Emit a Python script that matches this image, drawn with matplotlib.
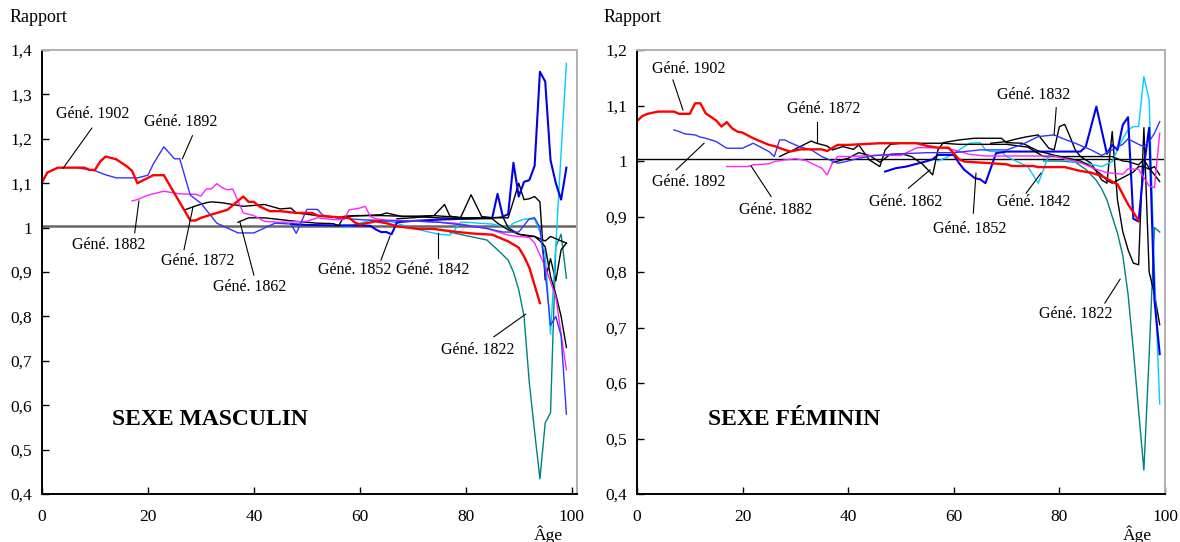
import matplotlib
matplotlib.use('Agg')
import matplotlib.pyplot as plt

plt.rcParams['font.family'] = ['Liberation Serif', 'DejaVu Serif']

# ---------------- DATA : SEXE MASCULIN ----------------
m1902_age = [0, 1, 3, 8, 9, 10, 11, 12, 14, 16, 17, 18, 21, 23, 28, 29, 30, 33, 35, 36, 38, 39, 40, 41, 43, 45, 48, 51, 52, 55, 58, 59, 60, 63, 65, 67, 71, 74, 77, 81, 85, 88, 90, 91, 92, 93, 94]
m1902_val = [1.102, 1.124, 1.135, 1.135, 1.13, 1.13, 1.149, 1.16, 1.154, 1.138, 1.128, 1.10, 1.118, 1.118, 1.016, 1.016, 1.022, 1.033, 1.04, 1.05, 1.07, 1.058, 1.058, 1.048, 1.037, 1.037, 1.033, 1.033, 1.027, 1.024, 1.022, 1.012, 1.007, 1.014, 1.010, 1.003, 0.997, 0.997, 0.992, 0.987, 0.984, 0.969, 0.955, 0.935, 0.91, 0.87, 0.83]

m1892_age = [7, 10, 12, 14, 18, 20, 21, 23, 25, 26, 28, 30, 33, 35, 37, 40, 42, 44, 47, 48, 50, 52, 53, 56, 60, 65, 70, 75, 80, 84, 87, 90, 92, 93, 94, 95, 96, 97, 98, 99]
m1892_val = [1.134, 1.128, 1.119, 1.112, 1.112, 1.118, 1.143, 1.182, 1.155, 1.155, 1.073, 1.055, 1.01, 0.999, 0.988, 0.988, 0.999, 1.01, 1.008, 0.987, 1.041, 1.041, 1.028, 1.022, 1.018, 1.015, 1.015, 1.012, 1.005, 0.998, 0.99, 0.99, 1.02, 1.022, 1.0, 0.9, 0.78, 0.80, 0.756, 0.58]

m1882_age = [17, 18, 20, 23, 26, 29, 30, 31, 32, 33, 34, 35, 36, 37, 38, 40, 42, 45, 50, 52, 55, 57, 58, 60, 61, 62, 63, 65, 70, 75, 78, 84, 88, 90, 92, 93, 95, 97, 98, 99]
m1882_val = [1.06, 1.063, 1.073, 1.082, 1.076, 1.075, 1.071, 1.087, 1.087, 1.099, 1.09, 1.085, 1.087, 1.06, 1.033, 1.027, 1.014, 1.012, 1.014, 1.022, 1.018, 1.018, 1.04, 1.044, 1.048, 1.025, 1.02, 1.017, 1.015, 1.012, 1.01, 0.998, 0.983, 0.98, 0.978, 0.965, 0.912, 0.844, 0.76, 0.68]

m1872_age = [27, 29, 31, 32, 34, 36, 38, 40, 42, 45, 47, 48, 52, 56, 57, 64, 65, 68, 74, 80, 85, 87, 88, 90, 92, 93, 94, 95, 96, 97, 98, 99]
m1872_val = [1.04, 1.049, 1.056, 1.058, 1.056, 1.052, 1.048, 1.05, 1.052, 1.042, 1.044, 1.033, 1.027, 1.022, 1.025, 1.029, 1.033, 1.025, 1.027, 1.022, 1.022, 1.024, 1.0, 0.985, 0.98, 0.98, 0.975, 0.97, 0.98, 0.975, 0.97, 0.965]

m1862_age = [37, 39, 42, 45, 48, 52, 55, 56, 57, 59, 64, 70, 75, 80, 85, 86, 88, 90, 92, 93, 94, 95, 96, 97, 98, 99]
m1862_val = [1.012, 1.022, 1.022, 1.018, 1.014, 1.01, 1.009, 1.004, 1.025, 1.027, 1.027, 1.025, 1.022, 1.02, 1.02, 1.01, 0.995, 0.985, 0.982, 0.98, 0.97, 0.957, 0.89, 0.85, 0.80, 0.73]

m1852_age = [47, 50, 55, 60, 62, 63, 64, 65, 66, 67, 70, 75, 80, 84, 85, 86, 87, 88, 89, 90, 91, 92, 93, 94, 95, 96, 97, 98, 99]
m1852_val = [1.008, 1.006, 1.005, 1.005, 1.004, 0.996, 0.99, 0.99, 0.985, 1.012, 1.015, 1.018, 1.02, 1.022, 1.022, 1.076, 1.025, 1.03, 1.146, 1.07, 1.103, 1.107, 1.139, 1.351, 1.329, 1.152, 1.10, 1.063, 1.135]

m1842_age = [57, 59, 62, 66, 68, 71, 73, 75, 77, 78, 79, 80, 85, 88, 89, 91, 92, 93, 94, 95, 96, 97, 98, 99]
m1842_val = [1.0, 1.006, 1.017, 1.013, 1.006, 0.996, 0.99, 0.985, 0.983, 0.996, 1.012, 1.012, 1.008, 1.0, 1.01, 1.019, 1.019, 1.019, 0.99, 0.94, 0.76, 0.96, 1.17, 1.37]

m1832_age = [67, 70, 74, 76, 77, 79, 81, 83, 85, 88, 89, 90, 91, 92, 93, 94, 95, 96, 97, 98, 99]
m1832_val = [1.02, 1.022, 1.027, 1.052, 1.026, 1.022, 1.074, 1.025, 1.022, 1.022, 1.06, 1.1, 1.063, 1.065, 1.07, 1.058, 0.882, 0.93, 0.88, 0.95, 0.965]

m1822_age = [77, 80, 84, 86, 88, 89, 90, 91, 92, 93, 94, 95, 96, 97, 98, 99]
m1822_val = [0.99, 0.982, 0.972, 0.95, 0.927, 0.9, 0.86, 0.80, 0.65, 0.54, 0.434, 0.56, 0.583, 0.957, 0.985, 0.886]

# ---------------- DATA : SEXE FÉMININ ----------------
f1902_age = [0, 1, 2, 4, 7, 8, 10, 11, 12, 13, 15, 16, 17, 18, 19, 20, 22, 25, 26, 28, 29, 31, 35, 36, 38, 40, 46, 53, 55, 57, 59, 61, 62, 67, 70, 71, 75, 76, 81, 84, 86, 88, 91, 93, 95]
f1902_val = [1.072, 1.081, 1.085, 1.089, 1.089, 1.085, 1.085, 1.104, 1.104, 1.086, 1.073, 1.062, 1.070, 1.059, 1.053, 1.051, 1.041, 1.029, 1.027, 1.02, 1.017, 1.021, 1.021, 1.018, 1.029, 1.029, 1.032, 1.032, 1.027, 1.024, 1.024, 1.003, 0.999, 0.996, 0.994, 0.991, 0.991, 0.989, 0.989, 0.982, 0.979, 0.973, 0.958, 0.922, 0.893]

f1892_age = [7, 8, 9, 11, 12, 13, 15, 17, 20, 22, 23, 24, 25, 26, 27, 28, 29, 31, 33, 35, 38, 40, 42, 45, 50, 55, 60, 65, 70, 73, 76, 79, 81, 83, 86, 88, 90, 92, 93, 94, 95, 96, 97, 98, 99]
f1892_val = [1.056, 1.053, 1.049, 1.047, 1.043, 1.041, 1.035, 1.023, 1.023, 1.032, 1.027, 1.022, 1.017, 1.008, 1.038, 1.038, 1.033, 1.025, 1.02, 1.008, 0.996, 1.0, 1.005, 1.01, 1.013, 1.015, 1.015, 1.02, 1.02, 1.03, 1.044, 1.047, 1.039, 1.032, 1.02, 1.01, 1.02, 1.03, 1.04, 1.035, 1.03, 1.026, 1.035, 1.05, 1.071]

f1882_age = [17, 21, 22, 25, 26, 28, 30, 32, 33, 35, 36, 37, 38, 40, 45, 50, 53, 58, 60, 63, 66, 70, 75, 79, 84, 87, 89, 92, 93, 95, 96, 97, 98, 99]
f1882_val = [0.99, 0.99, 0.993, 0.995, 0.999, 1.002, 1.004, 1.001, 0.996, 0.987, 0.975, 0.996, 1.008, 1.008, 1.01, 1.01, 1.024, 1.024, 1.02, 1.012, 1.009, 1.009, 1.009, 1.009, 0.997, 0.985, 0.979, 0.976, 0.986, 0.985, 0.97, 0.955, 0.952, 1.05]

f1872_age = [27, 29, 33, 34, 36, 37, 39, 41, 42, 44, 46, 47, 48, 50, 54, 58, 61, 65, 70, 74, 77, 80, 85, 88, 90, 92, 93, 94, 95, 96, 97, 98, 99]
f1872_val = [1.008, 1.017, 1.036, 1.032, 1.027, 1.02, 1.026, 1.021, 1.029, 1.002, 0.99, 1.02, 1.03, 1.032, 1.032, 1.032, 1.03, 1.03, 1.03, 1.025, 1.008, 1.008, 1.008, 1.008, 1.008, 1.0, 0.999, 0.996, 0.993, 1.003, 0.987, 0.975, 0.963]

f1862_age = [37, 40, 42, 44, 46, 48, 50, 52, 54, 55, 56, 57, 58, 61, 64, 69, 70, 73, 76, 80, 84, 86, 88, 89, 90, 92, 94, 95, 96, 97, 98, 99]
f1862_val = [0.997, 1.005, 1.015, 1.01, 0.998, 1.012, 1.013, 1.008, 0.995, 0.985, 0.975, 1.02, 1.033, 1.038, 1.041, 1.041, 1.033, 1.032, 1.018, 1.008, 1.0, 0.99, 0.975, 0.965, 0.96, 0.97, 0.98, 0.99, 0.99, 0.985, 0.99, 0.975]

f1852_age = [47, 49, 51, 53, 55, 56, 57, 60, 61, 62, 64, 65, 66, 68, 70, 75, 80, 84, 85, 87, 89, 90, 91, 92, 93, 94, 95, 96, 97, 98, 99]
f1852_val = [0.981, 0.987, 0.99, 0.995, 1.0, 1.003, 1.011, 1.011, 0.996, 0.984, 0.969, 0.967, 0.96, 1.014, 1.017, 1.017, 1.017, 1.017, 1.026, 1.098, 1.013, 1.029, 1.02, 1.065, 1.079, 0.896, 0.891, 0.99, 1.06, 0.75, 0.652]

f1842_age = [57, 59, 61, 63, 65, 66, 67, 69, 70, 72, 74, 75, 76, 77, 78, 80, 82, 85, 88, 90, 91, 92, 93, 94, 95, 96, 97, 98, 99]
f1842_val = [1.0, 1.008, 1.02, 1.032, 1.033, 1.02, 1.017, 1.017, 1.008, 0.999, 0.99, 0.975, 0.96, 0.985, 1.011, 1.009, 0.999, 0.996, 0.99, 0.999, 1.02, 1.04, 1.056, 1.062, 1.062, 1.152, 1.11, 0.80, 0.562]

f1832_age = [67, 70, 72, 74, 76, 77, 78, 79, 80, 81, 82, 83, 84, 86, 88, 89, 90, 91, 92, 93, 94, 95, 96, 97, 98, 99]
f1832_val = [1.032, 1.035, 1.04, 1.044, 1.047, 1.035, 1.023, 1.02, 1.062, 1.066, 1.044, 1.02, 1.008, 0.996, 0.966, 0.96, 1.053, 0.93, 0.873, 0.84, 0.816, 0.813, 1.06, 0.80, 0.76, 0.705]

f1822_age = [77, 80, 83, 85, 87, 88, 89, 90, 91, 92, 93, 94, 95, 96, 97, 98, 99]
f1822_val = [1.0, 1.0, 0.998, 0.985, 0.965, 0.95, 0.93, 0.90, 0.87, 0.83, 0.76, 0.66, 0.55, 0.443, 0.65, 0.88, 0.872]

generations = ['1822', '1832', '1842', '1852', '1862', '1872', '1882', '1892', '1902']
x_ticks = [0, 20, 40, 60, 80, 100]
y_ticks_m = [0.4, 0.5, 0.6, 0.7, 0.8, 0.9, 1.0, 1.1, 1.2, 1.3, 1.4]
y_ticks_f = [0.4, 0.5, 0.6, 0.7, 0.8, 0.9, 1.0, 1.1, 1.2]
y_labels_m = ['0,4', '0,5', '0,6', '0,7', '0,8', '0,9', '1', '1,1', '1,2', '1,3', '1,4']
y_labels_f = ['0,4', '0,5', '0,6', '0,7', '0,8', '0,9', '1', '1,1', '1,2']

male = {'1822': (m1822_age, m1822_val), '1832': (m1832_age, m1832_val),
        '1842': (m1842_age, m1842_val), '1852': (m1852_age, m1852_val),
        '1862': (m1862_age, m1862_val), '1872': (m1872_age, m1872_val),
        '1882': (m1882_age, m1882_val), '1892': (m1892_age, m1892_val),
        '1902': (m1902_age, m1902_val)}
female = {'1822': (f1822_age, f1822_val), '1832': (f1832_age, f1832_val),
          '1842': (f1842_age, f1842_val), '1852': (f1852_age, f1852_val),
          '1862': (f1862_age, f1862_val), '1872': (f1872_age, f1872_val),
          '1882': (f1882_age, f1882_val), '1892': (f1892_age, f1892_val),
          '1902': (f1902_age, f1902_val)}

styles = {'1902': ('#ff0000', 1.7), '1892': ('#3333ff', 1.0), '1882': ('#ff22ff', 1.0),
          '1872': ('#000000', 1.0), '1862': ('#000000', 1.0), '1852': ('#0000ee', 1.5),
          '1842': ('#00ccff', 1.0), '1832': ('#000000', 1.0), '1822': ('#008080', 1.0)}

# label layout: (gen, text x, text y, leader x0, y0, x1, y1) in data units
labels_m = [('1902', 9.6, 1.256, 9.4, 1.224, 4.0, 1.134),
            ('1892', 26.2, 1.238, 28.4, 1.207, 26.5, 1.155),
            ('1882', 12.6, 0.961, 17.5, 0.988, 18.3, 1.06),
            ('1872', 29.4, 0.925, 26.8, 0.95, 28.5, 1.046),
            ('1862', 39.2, 0.866, 40.0, 0.893, 37.4, 1.011),
            ('1852', 59.1, 0.905, 64.0, 0.927, 65.7, 0.981),
            ('1842', 73.8, 0.905, 74.7, 0.931, 74.7, 0.987),
            ('1822', 82.3, 0.724, 85.3, 0.754, 91.3, 0.805)]
labels_f = [('1902', 9.75, 1.166, 6.8, 1.146, 8.7, 1.092),
            ('1892', 9.75, 0.962, 7.4, 0.984, 12.7, 1.032),
            ('1882', 26.3, 0.912, 25.4, 0.936, 21.6, 0.991),
            ('1872', 35.4, 1.094, 34.0, 1.071, 34.0, 1.035),
            ('1862', 50.9, 0.926, 51.4, 0.951, 55.5, 0.984),
            ('1852', 63.1, 0.877, 63.7, 0.906, 64.2, 0.978),
            ('1842', 75.2, 0.926, 73.7, 0.942, 76.5, 0.978),
            ('1832', 75.2, 1.119, 79.4, 1.096, 79.0, 1.047),
            ('1822', 83.0, 0.724, 88.6, 0.744, 91.5, 0.787)]

W, H = 1180, 542
fig = plt.figure(figsize=(W / 100, H / 100), dpi=100)
ax_m = fig.add_axes([42 / W, 1 - 494 / H, 535 / W, 444 / H])
ax_f = fig.add_axes([637 / W, 1 - 494 / H, 528 / W, 444 / H])


def draw(ax, data, labels, yt, ylab, ylim, xmax, refcol, reflw, title, tx):
    ax.axhline(1.004, color=refcol, lw=reflw, zorder=1)
    for g in generations:
        a, v = data[g]
        c, lw = styles[g]
        ax.plot(a, v, color=c, lw=lw, zorder=2)
    for g, lx, ly, x0, y0, x1, y1 in labels:
        ax.text(lx, ly, 'Géné. ' + g, ha='center', va='center', fontsize=11.5, zorder=4)
        ax.plot([x0, x1], [y0, y1], color='black', lw=0.8, zorder=3)
    ax.set_xlim(0, xmax)
    ax.set_ylim(*ylim)
    ax.set_xticks(x_ticks)
    ax.set_xticklabels([str(t) for t in x_ticks])
    ax.set_yticks(yt)
    ax.set_yticklabels(ylab)
    ax.tick_params(axis='both', direction='in', length=5, width=1, labelsize=12.5, colors='black')
    ax.tick_params(axis='x', pad=11)
    ax.tick_params(axis='y', pad=7)
    for s in ['left', 'bottom']:
        ax.spines[s].set_color('black')
        ax.spines[s].set_linewidth(1.4)
    for s in ['top', 'right']:
        ax.spines[s].set_color('#b0b0b0')
        ax.spines[s].set_linewidth(1.4)
    ax.text(tx, 0.167, title, transform=ax.transAxes,
            ha='center', va='center', fontsize=17, fontweight='bold')


draw(ax_m, male, labels_m, y_ticks_m, y_labels_m, (0.4, 1.4), 101, '#666666', 1.8, 'SEXE MASCULIN', 0.314)
draw(ax_f, female, labels_f, y_ticks_f, y_labels_f, (0.4, 1.2), 100, '#000000', 1.0, 'SEXE FÉMININ', 0.297)

fig.text(10 / W, 1 - 17 / H, 'Rapport', ha='left', va='center', fontsize=13)
fig.text(604 / W, 1 - 17 / H, 'Rapport', ha='left', va='center', fontsize=13)
fig.text(548 / W, 1 - 535 / H, 'Âge', ha='center', va='center', fontsize=12.5)
fig.text(1137 / W, 1 - 535 / H, 'Âge', ha='center', va='center', fontsize=12.5)

fig.savefig('out.png', dpi=100, facecolor='white')
